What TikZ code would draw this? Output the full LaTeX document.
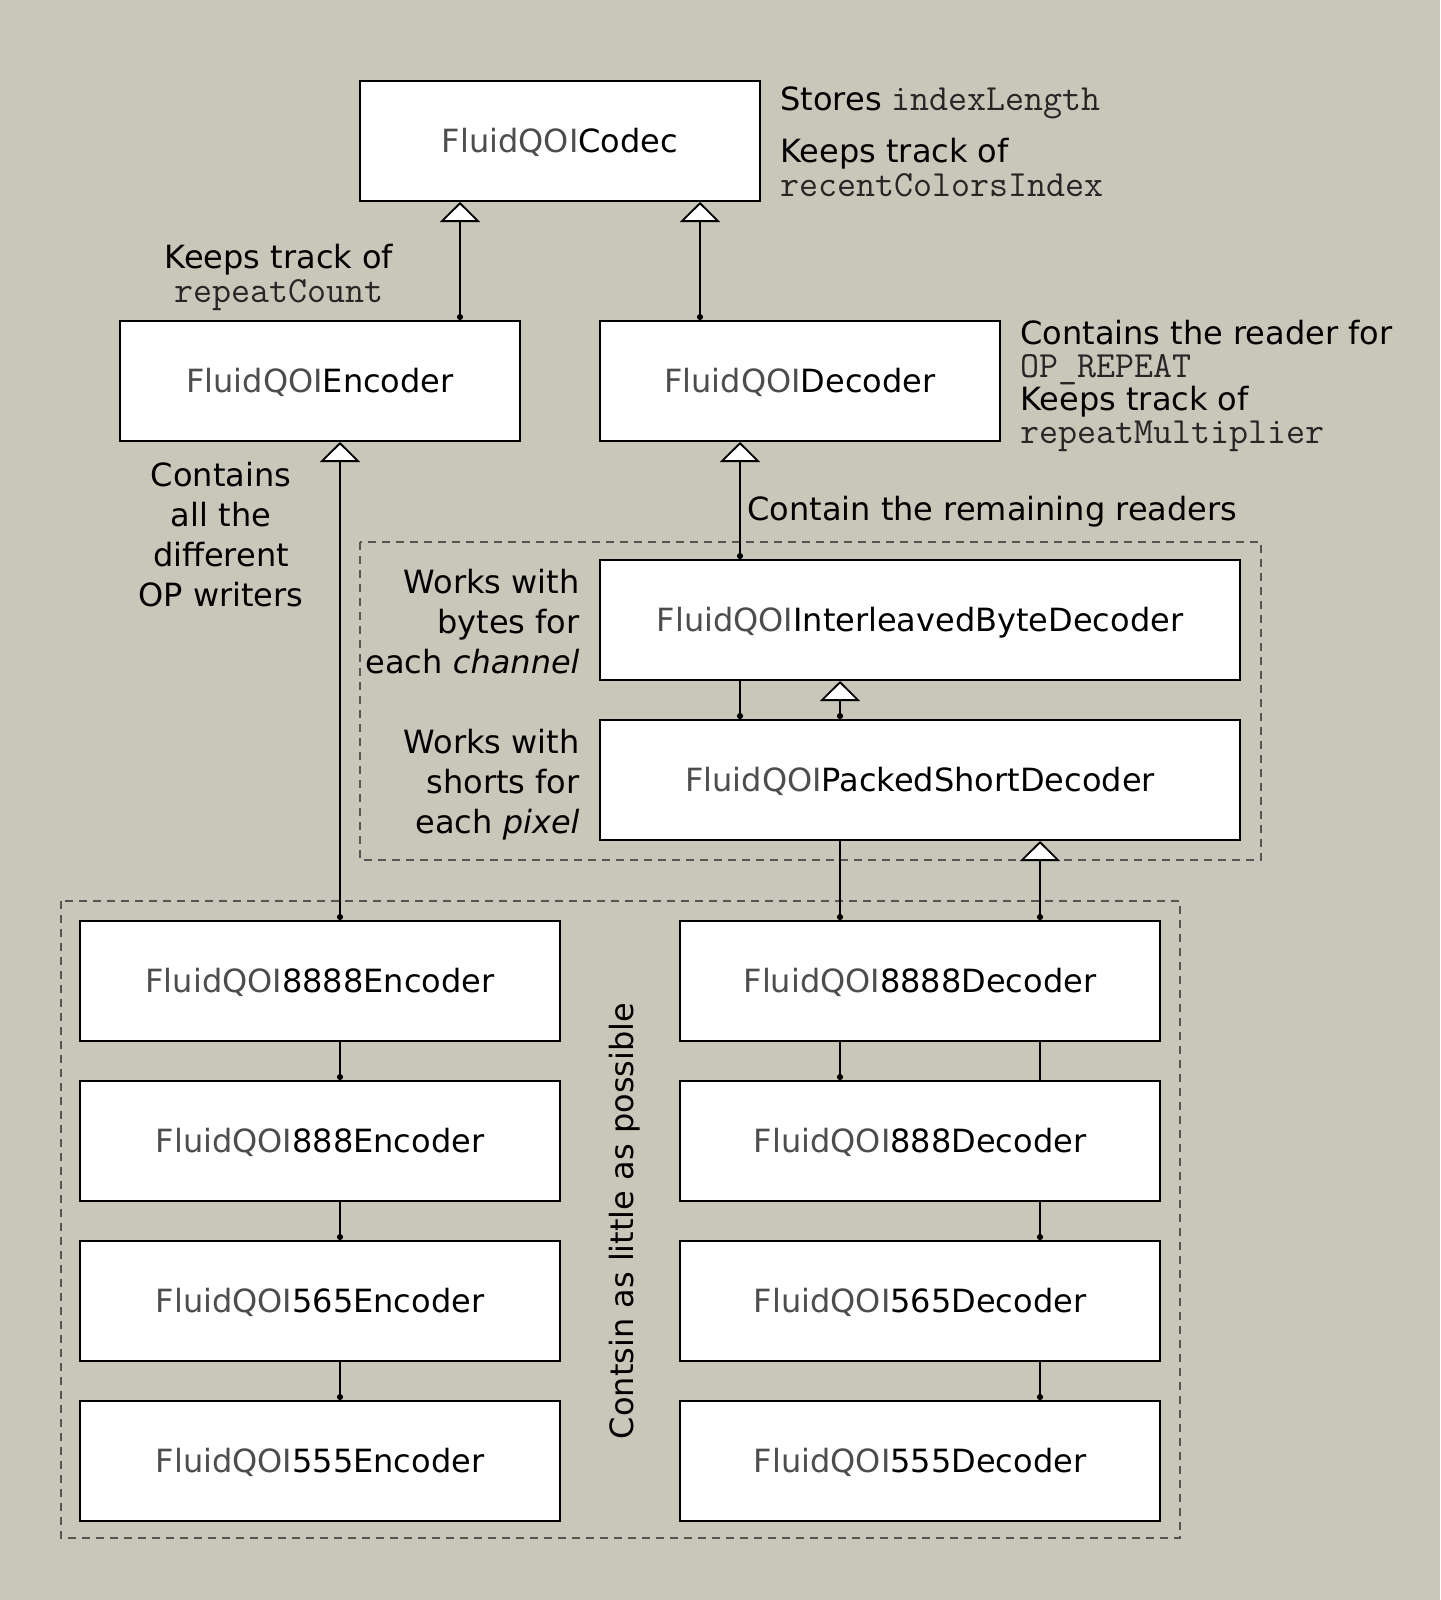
\documentclass[tikz,border=0pt]{standalone}
\usepackage{fontspec}
\setmainfont{DejaVu Sans}
\usepackage{xcolor}
\usetikzlibrary{arrows.meta,positioning,calc}
\definecolor{paper}{HTML}{C9C7B9}
\definecolor{qoigray}{HTML}{4D4D4D}
\definecolor{groupgray}{HTML}{555555}
\definecolor{codegray}{HTML}{262626}
\newcommand{\qoi}{\textcolor{qoigray}{FluidQOI}}
\newcommand{\code}[1]{{\fontsize{18.45}{17}\selectfont\ttfamily\color{codegray}#1}}

\begin{document}
\begin{tikzpicture}[x=0.5pt,y=-0.5pt,
      cls/.style={rectangle,draw=black,line width=1pt,fill=white,inner sep=0pt,
        minimum height=60pt,text height=11.7pt,text depth=0pt,font=\fontsize{16}{20}\selectfont},
      note/.style={inner sep=0pt,font=\fontsize{16}{20}\selectfont},
      tight/.style={inner sep=0pt,font=\fontsize{16}{17}\selectfont},
      group/.style={draw=groupgray,line width=0.7pt,dash pattern=on 4pt off 3pt},
      inherit/.style={line width=0.9pt,{Circle[length=3pt]}-{Triangle[width=20pt,length=10pt,fill=white,line width=0.9pt]}},
      link/.style={line width=0.9pt,-{Circle[length=3pt]}},
      plain/.style={line width=0.9pt}]
      \fill[paper] (0,0) rectangle (1440,1600);
      \useasboundingbox (0,0) rectangle (1440,1600);

      \draw[group] (360,542) rectangle (1261,860);
      \draw[group] (61,901) rectangle (1180,1538);

      \node[cls,minimum width=200pt] (codec) at (560,141) {\qoi Codec};
      \node[cls,minimum width=200pt] (enc) at (320,381) {\qoi Encoder};
      \node[cls,minimum width=200pt] (dec) at (800,381) {\qoi Decoder};
      \node[cls,minimum width=320pt] (intl) at (920,620) {\qoi InterleavedByteDecoder};
      \node[cls,minimum width=320pt] (packed) at (920,780) {\qoi PackedShortDecoder};

      \node[cls,minimum width=240pt] (enc8888) at (320,981) {\qoi 8888Encoder};
      \node[cls,minimum width=240pt] (enc888) at (320,1141) {\qoi 888Encoder};
      \node[cls,minimum width=240pt] (enc565) at (320,1301) {\qoi 565Encoder};
      \node[cls,minimum width=240pt] (enc555) at (320,1461) {\qoi 555Encoder};
      \node[cls,minimum width=240pt] (dec8888) at (920,981) {\qoi 8888Decoder};
      \node[cls,minimum width=240pt] (dec888) at (920,1141) {\qoi 888Decoder};
      \node[cls,minimum width=240pt] (dec565) at (920,1301) {\qoi 565Decoder};
      \node[cls,minimum width=240pt] (dec555) at (920,1461) {\qoi 555Decoder};

      \node[note,anchor=west] (nstores) at (780,103) {Stores \code{indexLength}};
      \node[tight,anchor=west,align=left] (nrecent) at (780,168) {Keeps track of\\\code{recentColorsIndex}};
      \node[tight,align=center] (nrepeat) at (279,277) {Keeps track of\\\code{repeatCount}};
      \node[tight,anchor=west,align=left,font=\fontsize{16}{16.4}\selectfont] (nreader) at (1020,386)
        {Contains the reader for\\\code{OP\_REPEAT}\\Keeps track of\\\code{repeatMultiplier}};
      \node[note,align=center] (nwriters) at (221,535) {Contains\\all the\\different\\OP writers};
      \node[note,anchor=west] (nremain) at (747,512) {Contain the remaining readers};
      \node[note,anchor=east,align=right] (nbytes) at (580,622) {Works with\\bytes for\\each \emph{channel}};
      \node[note,anchor=east,align=right] (nshorts) at (580,785) {Works with\\shorts for\\each \emph{pixel}};
      \node[note,rotate=90] (nlittle) at (625,1221) {Contsin as little as possible};

      \draw[inherit] ($(enc.north)+(140,0)$) -- ($(codec.south)+(-100,0)$);
      \draw[inherit] ($(dec.north)+(-100,0)$) -- ($(codec.south)+(140,0)$);
      \draw[inherit] ($(intl.north)+(-180,0)$) -- ($(dec.south)+(-60,0)$);
      \draw[link] ($(intl.south)+(-180,0)$) -- ($(packed.north)+(-180,0)$);
      \draw[inherit] ($(packed.north)+(-80,0)$) -- ($(intl.south)+(-80,0)$);
      \draw[link] ($(packed.south)+(-80,0)$) -- ($(dec8888.north)+(-80,0)$);
      \draw[inherit] ($(dec8888.north)+(120,0)$) -- ($(packed.south)+(120,0)$);
      \draw[link] ($(dec8888.south)+(-80,0)$) -- ($(dec888.north)+(-80,0)$);
      \draw[plain] ($(dec8888.south)+(120,0)$) -- ($(dec888.north)+(120,0)$);
      \draw[link] ($(dec888.south)+(120,0)$) -- ($(dec565.north)+(120,0)$);
      \draw[link] ($(dec565.south)+(120,0)$) -- ($(dec555.north)+(120,0)$);

      \draw[inherit] ($(enc8888.north)+(20,0)$) -- ($(enc.south)+(20,0)$);
      \draw[link] ($(enc8888.south)+(20,0)$) -- ($(enc888.north)+(20,0)$);
      \draw[link] ($(enc888.south)+(20,0)$) -- ($(enc565.north)+(20,0)$);
      \draw[link] ($(enc565.south)+(20,0)$) -- ($(enc555.north)+(20,0)$);
    \end{tikzpicture}
\end{document}
